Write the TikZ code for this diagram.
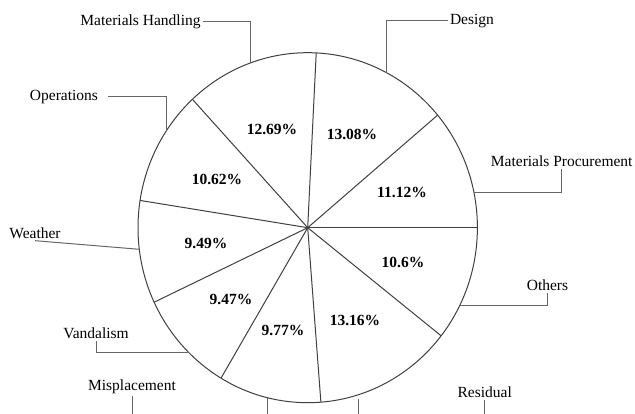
\documentclass[tikz,border=0pt]{standalone}
\usepackage{fontspec}
\setmainfont{Liberation Serif}
\usepackage{tikz}

\begin{document}
\begin{tikzpicture}[x=1pt,y=1pt,
  slice/.style={line width=1pt, black!75},
  lead/.style={line width=1pt, black!60},
  pct/.style={font=\fontsize{15.5}{18}\selectfont\bfseries},
  lbl/.style={font=\fontsize{15.5}{18}\selectfont, inner sep=2pt}]
\useasboundingbox (0,0) rectangle (635,414);

% pie
\coordinate (c) at (307.7,186.3);
\draw[slice] (c) ellipse [x radius=169.7, y radius=175];
\draw[slice] (c) -- ++(0:169.7 and 175);
\draw[slice] (c) -- ++(40.03:169.7 and 175);
\draw[slice] (c) -- ++(87.12:169.7 and 175);
\draw[slice] (c) -- ++(132.80:169.7 and 175);
\draw[slice] (c) -- ++(171.04:169.7 and 175);
\draw[slice] (c) -- ++(205.20:169.7 and 175);
\draw[slice] (c) -- ++(239.29:169.7 and 175);
\draw[slice] (c) -- ++(274.46:169.7 and 175);
\draw[slice] (c) -- ++(321.84:169.7 and 175);

\node[pct] (pmp) at (402,222) {11.12\%};
\node[pct] (pde) at (352,280) {13.08\%};
\node[pct] (pmh) at (272,285) {12.69\%};
\node[pct] (pop) at (217,235) {10.62\%};
\node[pct] (pwe) at (206,171) {9.49\%};
\node[pct] (pva) at (231,115) {9.47\%};
\node[pct] (pmi) at (283,84) {9.77\%};
\node[pct] (pre) at (355,94) {13.16\%};
\node[pct] (pot) at (403,152) {10.6\%};

% labels
\node[lbl] (mh) at (140.5,392.3) {Materials Handling};
\node[lbl] (op) at (64,317) {Operations};
\node[lbl] (de) at (472,393) {Design};
\node[lbl] (mp) at (561.7,253) {Materials Procurement};
\node[lbl] (we) at (35,181) {Weather};
\node[lbl] (va) at (96,81) {Vandalism};
\node[lbl] (mi) at (132,27) {Misplacement};
\node[lbl] (re) at (484.7,22) {Residual};
\node[lbl] (ot) at (547.5,129) {Others};

% points on the pie
\coordinate (mhc) at (250.7,351.1);
\coordinate (opc) at (166,282.6);
\coordinate (dec) at (386.5,341.3);
\coordinate (mpc) at (474,221.3);
\coordinate (wec) at (139.3,164.7);
\coordinate (vac) at (188.7,61.5);
\coordinate (otc) at (459.6,108.3);
\coordinate (mic) at (267.5,16.3);
\coordinate (rec) at (358,14.5);
\coordinate (bot) at (0,0);

% leaders
\draw[lead] (mh.east) -| (mhc);
\draw[lead, shorten <=8pt] (op.east) -| (opc);
\draw[lead] (de.west) -| (dec);
\draw[lead] (mp.south) |- (mpc);
\draw[lead] (we.south) -- (wec);
\draw[lead] (va.south) |- (vac);
\draw[lead] (ot.south) |- (otc);
\draw[lead] (mi.south) -- (mi.south |- bot);
\draw[lead] (re.south) -- (re.south |- bot);
\draw[lead] (mic) -- (mic |- bot);
\draw[lead] (rec) -- (rec |- bot);

\end{tikzpicture}
\end{document}
